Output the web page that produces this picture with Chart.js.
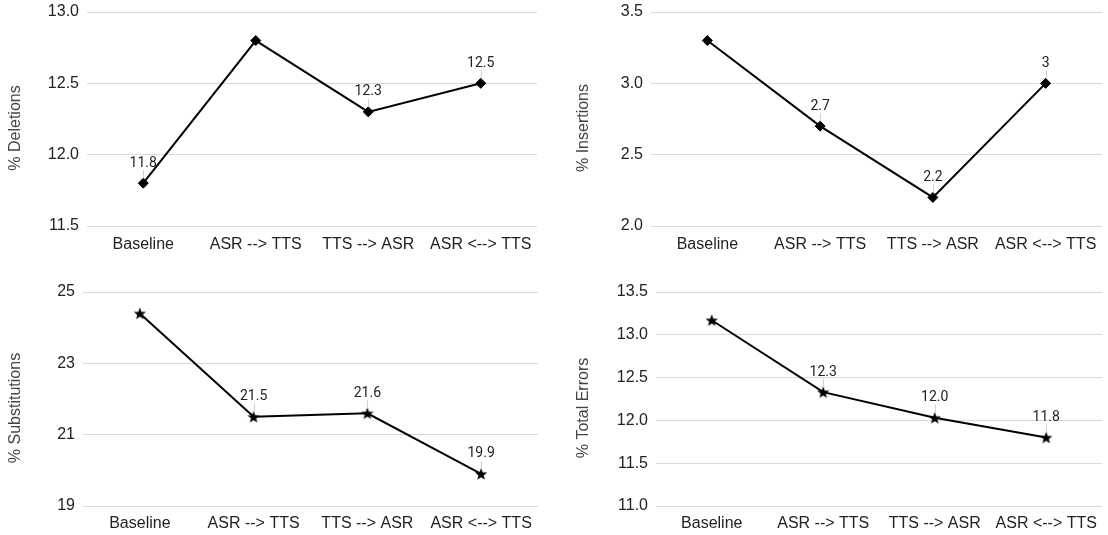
<!DOCTYPE html>
<html>
<head>
<meta charset="utf-8">
<script src="https://cdn.jsdelivr.net/npm/chart.js@4.4.1/dist/chart.umd.min.js"></script>
<style>
    html, body { margin: 0; padding: 0; background: #fff; }
    #wrap { position: relative; width: 1108px; height: 535px; overflow: hidden; }
    canvas { position: absolute; }
</style>
</head>
<body>
<div id="wrap">
    <canvas id="deletions" width="554" height="265" style="left:0;top:0"></canvas>
    <canvas id="insertions" width="554" height="265" style="left:554px;top:0"></canvas>
    <canvas id="substitutions" width="554" height="270" style="left:0;top:265px"></canvas>
    <canvas id="totalErrors" width="554" height="270" style="left:554px;top:265px"></canvas>
</div>
<script>
const categories = ['Baseline', 'ASR --> TTS', 'TTS --> ASR', 'ASR <--> TTS'];

const deletions = [11.8, 12.8, 12.3, 12.5];
const deletionLabels = ['11.8', null, '12.3', '12.5'];
const deletionTicks = [11.5, 12.0, 12.5, 13.0];

const insertions = [3.3, 2.7, 2.2, 3.0];
const insertionLabels = [null, '2.7', '2.2', '3'];
const insertionTicks = [2.0, 2.5, 3.0, 3.5];

const substitutions = [24.4, 21.5, 21.6, 19.9];
const substitutionLabels = [null, '21.5', '21.6', '19.9'];
const substitutionTicks = [19, 21, 23, 25];

const totalErrors = [13.17, 12.33, 12.03, 11.8];
const totalErrorLabels = [null, '12.3', '12.0', '11.8'];
const totalErrorTicks = [11.0, 11.5, 12.0, 12.5, 13.0, 13.5];

const FONT = '"Liberation Sans", Arial, sans-serif';

// filled five point star used as marker on the bottom charts
function makeStar() {
    const c = document.createElement('canvas');
    c.width = 14;
    c.height = 14;
    const g = c.getContext('2d');
    g.beginPath();
    for (let i = 0; i < 10; i++) {
        const r = i % 2 === 0 ? 6.5 : 2.7;
        const a = -Math.PI / 2 + i * Math.PI / 5;
        const px = 7 + r * Math.cos(a);
        const py = 7.6 + r * Math.sin(a);
        if (i === 0) g.moveTo(px, py); else g.lineTo(px, py);
    }
    g.closePath();
    g.fillStyle = '#000';
    g.fill();
    return c;
}
const star = makeStar();

// value labels with a faint leader line, and the rotated y title
const annotate = {
    id: 'annotate',
    afterDatasetsDraw(chart, args, opts) {
        const ctx = chart.ctx;
        const meta = chart.getDatasetMeta(0);
        ctx.save();
        meta.data.forEach((pt, i) => {
            const text = opts.labels[i];
            if (!text) return;
            ctx.strokeStyle = '#d0d0d0';
            ctx.lineWidth = 1;
            ctx.beginPath();
            ctx.moveTo(Math.round(pt.x) + 0.5, pt.y - 13);
            ctx.lineTo(Math.round(pt.x) + 0.5, pt.y - 5);
            ctx.stroke();
            ctx.font = '14px Roboto';
            ctx.fillStyle = '#222';
            ctx.textAlign = 'center';
            ctx.textBaseline = 'middle';
            ctx.fillText(text, pt.x, pt.y - 20);
        });
        const a = chart.chartArea;
        ctx.translate(opts.titleX, (a.top + a.bottom) / 2 + 9);
        ctx.rotate(-Math.PI / 2);
        ctx.font = '16px ' + FONT;
        ctx.fillStyle = '#444';
        ctx.textAlign = 'center';
        ctx.textBaseline = 'middle';
        ctx.fillText(opts.title, 0, 0);
        ctx.restore();
    }
};

function makeChart(id, cfg) {
    const ticks = cfg.ticks;
    new Chart(document.getElementById(id), {
        type: 'line',
        data: {
            labels: categories,
            datasets: [{
                data: cfg.values,
                borderColor: '#000',
                borderWidth: 2,
                tension: 0,
                pointStyle: cfg.marker,
                pointRadius: 5,
                pointBackgroundColor: '#000',
                pointBorderColor: '#000',
                pointBorderWidth: 1
            }]
        },
        options: {
            responsive: false,
            animation: false,
            layout: { padding: { left: 0, right: cfg.padRight, top: cfg.padTop, bottom: 0 } },
            plugins: {
                legend: { display: false },
                tooltip: { enabled: false },
                annotate: { labels: cfg.labels, title: cfg.title, titleX: cfg.titleX }
            },
            scales: {
                x: {
                    offset: true,
                    grid: { display: false, drawTicks: false },
                    border: { display: false },
                    ticks: { font: { family: FONT, size: 16 }, color: '#222', padding: cfg.xPad, maxRotation: 0 },
                    afterFit: s => { s.height = cfg.xHeight; }
                },
                y: {
                    min: ticks[0],
                    max: ticks[ticks.length - 1],
                    // invisible tick marks keep the labels 8px off the plot
                    grid: { color: '#d9d9d9', lineWidth: 1, drawTicks: true, tickLength: 8, tickColor: 'rgba(0,0,0,0)' },
                    border: { display: false },
                    ticks: {
                        stepSize: ticks[1] - ticks[0],
                        padding: 0,
                        color: '#222',
                        font: { family: FONT, size: 16 },
                        callback: v => cfg.decimals ? v.toFixed(1) : String(v)
                    },
                    afterFit: s => { s.width = cfg.yWidth; }
                }
            }
        },
        plugins: [annotate]
    });
}

makeChart('deletions', {
    values: deletions, labels: deletionLabels, ticks: deletionTicks, title: '% Deletions',
    marker: 'rectRot', decimals: true, yWidth: 87, padRight: 17, padTop: 12, xHeight: 39, xPad: 9, titleX: 16
});
makeChart('insertions', {
    values: insertions, labels: insertionLabels, ticks: insertionTicks, title: '% Insertions',
    marker: 'rectRot', decimals: true, yWidth: 97, padRight: 2, padTop: 12, xHeight: 39, xPad: 9, titleX: 30
});
makeChart('substitutions', {
    values: substitutions, labels: substitutionLabels, ticks: substitutionTicks, title: '% Substitutions',
    marker: star, decimals: false, yWidth: 83, padRight: 16, padTop: 27, xHeight: 29, xPad: 8, titleX: 16
});
makeChart('totalErrors', {
    values: totalErrors, labels: totalErrorLabels, ticks: totalErrorTicks, title: '% Total Errors',
    marker: star, decimals: true, yWidth: 102, padRight: 3, padTop: 27, xHeight: 29, xPad: 8, titleX: 30
});
</script>
</body>
</html>
